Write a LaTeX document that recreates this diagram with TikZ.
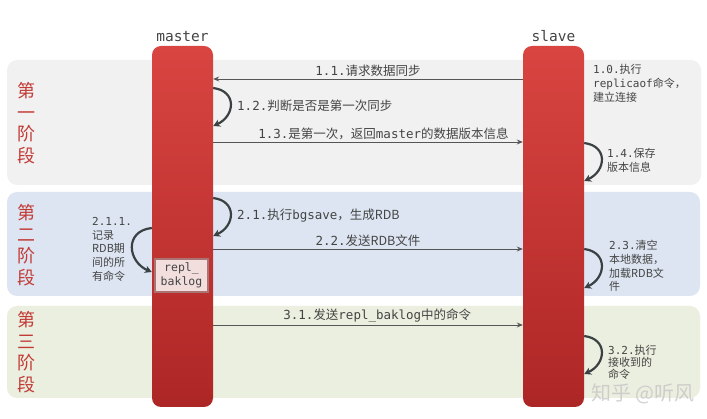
\documentclass[tikz,border=0pt]{standalone}
\usepackage{fontspec}
\setmainfont{Noto Sans CJK SC}
\setmonofont{DejaVu Sans Mono}
\usepackage{xcolor}
\usetikzlibrary{arrows.meta, positioning}

\definecolor{bandA}{HTML}{F1F1F1}
\definecolor{bandB}{HTML}{DCE5F1}
\definecolor{bandC}{HTML}{EBEFDF}
\definecolor{barTop}{HTML}{D94541}
\definecolor{barBot}{HTML}{AD2626}
\definecolor{stageRed}{HTML}{C23B36}
\definecolor{txtGray}{HTML}{444444}
\definecolor{lineGray}{HTML}{555555}
\definecolor{loopGray}{HTML}{3B4143}
\definecolor{replFill}{HTML}{F3DEDE}
\definecolor{replEdge}{HTML}{8E4545}

\begin{document}
\begin{tikzpicture}[
  x=1pt, y=-1pt,
  band/.style={rounded corners=10pt},
  bar/.style={
    rectangle, rounded corners=9pt, inner sep=0pt,
    minimum width=61pt, minimum height=361pt,
    top color=barTop, bottom color=barBot
  },
  barname/.style={font=\ttfamily\fontsize{14.5}{16}\selectfont, text=txtGray},
  stage/.style={font=\fontsize{18}{21.5}\selectfont, text=stageRed, align=center},
  msg/.style={-{Stealth[length=6pt, width=5pt]}, draw=lineGray, line width=0.9pt},
  msglabel/.style={font=\fontsize{12.5}{15}\selectfont, text=txtGray, above, inner sep=2pt},
  selfloop/.style={-{Stealth[length=7pt, width=7.5pt]}, draw=loopGray, line width=2.2pt},
  note/.style={font=\fontsize{11}{13.8}\selectfont, text=txtGray, align=left, inner sep=0pt},
  replbox/.style={
    rectangle, inner sep=0pt, minimum width=53pt, minimum height=33pt,
    fill=replFill, draw=replEdge!75, line width=1.3pt, align=center,
    font=\ttfamily\fontsize{11.5}{13.5}\selectfont, text=txtGray
  },
  watermark/.style={font=\fontsize{20}{22}\selectfont, text=gray!45, opacity=0.8}
]
\useasboundingbox (0,0) rectangle (707,419);

% ---- Stage bands ----
\fill[band, fill=bandA] (7,60)  rectangle (701,185);
\fill[band, fill=bandB] (7,192) rectangle (700,296);
\fill[band, fill=bandC] (7,306) rectangle (700,398);

\node[stage] (st1) at (26,123) {第\\一\\阶\\段};
\node[stage] (st2) at (26,245) {第\\二\\阶\\段};
\node[stage] (st3) at (26,352) {第\\三\\阶\\段};

% ---- Lifelines ----
\node[bar] (mbar) at (182.5,226.5) {};
\node[bar] (sbar) at (553.5,226.5) {};
\node[barname, above=1pt of mbar] (mname) {master};
\node[barname, above=1pt of sbar] (sname) {slave};

\node[replbox] (repl) at (181.5,275.5) {repl\_\\baklog};

% ---- Stage 1 ----
\node[note, anchor=north west] (n10) at (593,64)
  {\texttt{1.0.}执行\\\texttt{replicaof}命令，\\建立连接};

\draw[msg] (sbar.west |- 0,79) -- node[msglabel] (l11) {\texttt{1.1.}请求数据同步} (mbar.east |- 0,79);

\draw[selfloop] (mbar.east |- 0,88) .. controls +(24,3) and +(22,-10) .. (mbar.east |- 0,126);
\node[msglabel, anchor=west] (l12) at (235,106) {\texttt{1.2.}判断是否是第一次同步};

\draw[msg] (mbar.east |- 0,142) -- node[msglabel, pos=0.55] (l13)
  {\texttt{1.3.}是第一次，返回\texttt{master}的数据版本信息} (sbar.west |- 0,142);

\draw[selfloop] (sbar.east |- 0,143) .. controls +(24,3) and +(22,-10) .. (sbar.east |- 0,181);
\node[note, anchor=west] (n14) at (607,160) {\texttt{1.4.}保存\\版本信息};

% ---- Stage 2 ----
\draw[selfloop] (mbar.east |- 0,198) .. controls +(24,3) and +(22,-10) .. (mbar.east |- 0,236);
\node[msglabel, anchor=west] (l21) at (235,216) {\texttt{2.1.}执行\texttt{bgsave}，生成RDB};

\draw[selfloop] (mbar.west |- 0,228) .. controls +(-28,3) and +(-24,-10) .. (mbar.west |- 0,272);
\node[note, anchor=north west] (n211) at (92,217)
  {\texttt{2.1.1.}\\记录\\RDB期\\间的所\\有命令};

\draw[msg] (mbar.east |- 0,249) -- node[msglabel] (l22) {\texttt{2.2.}发送RDB文件} (sbar.west |- 0,249);

\draw[selfloop] (sbar.east |- 0,249) .. controls +(24,3) and +(22,-10) .. (sbar.east |- 0,288);
\node[note, anchor=north west] (n23) at (609,240)
  {\texttt{2.3.}清空\\本地数据，\\加载RDB文\\件};

% ---- Stage 3 ----
\draw[msg] (mbar.east |- 0,325) -- node[msglabel, pos=0.53] (l31)
  {\texttt{3.1.}发送\texttt{repl\_baklog}中的命令} (sbar.west |- 0,325);

\draw[selfloop] (sbar.east |- 0,336) .. controls +(24,3) and +(22,-10) .. (sbar.east |- 0,374);
\node[note, anchor=north west, font=\fontsize{11}{12}\selectfont] (n32) at (608,345)
  {\texttt{3.2.}执行\\接收到的\\命令};

\node[watermark, anchor=west] (wm) at (588,394) {知乎 @听风};
\end{tikzpicture}
\end{document}
